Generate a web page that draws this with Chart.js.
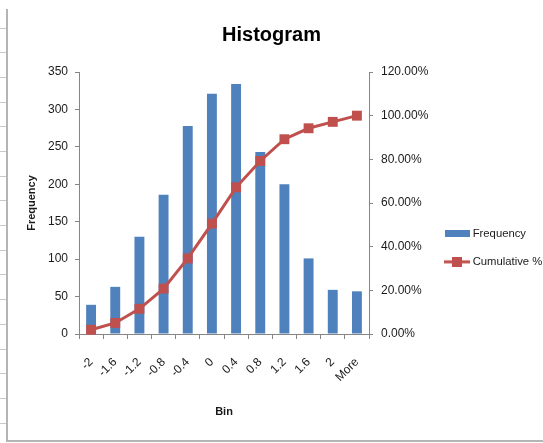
<!DOCTYPE html>
<html>
<head>
<meta charset="utf-8">
<script src="https://cdn.jsdelivr.net/npm/chart.js@4/dist/chart.umd.min.js"></script>
<style>
  html, body { margin: 0; padding: 0; background: #fff; }
  #wrap { width: 543px; height: 443px; }
</style>
</head>
<body>
<div id="wrap"><canvas id="c" width="543" height="443"></canvas></div>
<script>
// Histogram bins and counts, with the running cumulative share in percent
const bins = ['-2', '-1.6', '-1.2', '-0.8', '-0.4', '0', '0.4', '0.8', '1.2', '1.6', '2', 'More'];
const frequency = [39, 63, 130, 186, 278, 321, 334, 243, 200, 101, 59, 57];
const cumulativePct = [1.94, 5.07, 11.54, 20.79, 34.61, 50.57, 67.18, 79.26, 89.21, 94.23, 97.16, 100];

// Axis ranges
const freqAxis = [0, 350, 50];   // min, max, step
const pctAxis = [0, 120, 20];

const BAR = '#4F81BD';
const LINE = '#C0504D';
const AXIS = '#868686';
const TEXT = '#1a1a1a';
const FONT = "'Liberation Sans', Arial, sans-serif";

// Small legend swatches: a flat bar and a line with a square marker
function swatch(w, h, draw) {
  const c = document.createElement('canvas');
  c.width = w; c.height = h;
  draw(c.getContext('2d'), w, h);
  return c;
}
const barSwatch = swatch(25, 7, (g, w, h) => { g.fillStyle = BAR; g.fillRect(0, 0, w, h); });
const lineSwatch = swatch(26, 10, (g, w, h) => {
  g.strokeStyle = LINE; g.lineWidth = 3;
  g.beginPath(); g.moveTo(0, h / 2); g.lineTo(w, h / 2); g.stroke();
  g.fillStyle = LINE; g.fillRect(w / 2 - 5, h / 2 - 5, 10, 10);
});

// Worksheet frame behind the chart: left edge with row marks and a bottom rule
const sheetFrame = {
  id: 'sheetFrame',
  beforeDraw(chart) {
    const g = chart.ctx;
    g.save();
    g.fillStyle = '#fff';
    g.fillRect(0, 0, chart.width, chart.height);
    g.strokeStyle = '#c8c8c8';
    g.lineWidth = 1;
    for (let y = 27.5; y < 430; y += 24.7) {
      g.beginPath(); g.moveTo(0, Math.round(y) + 0.5); g.lineTo(6, Math.round(y) + 0.5); g.stroke();
    }
    g.strokeStyle = '#b4b4b4';
    g.lineWidth = 2;
    g.beginPath(); g.moveTo(7, 9); g.lineTo(7, 441); g.lineTo(chart.width, 441); g.stroke();
    g.restore();
  }
};

new Chart(document.getElementById('c'), {
  type: 'bar',
  data: {
    labels: bins,
    datasets: [
      {
        type: 'bar',
        label: 'Frequency',
        data: frequency,
        backgroundColor: BAR,
        borderWidth: 0,
        barPercentage: 0.41,
        categoryPercentage: 1.0,
        yAxisID: 'y',
        order: 2
      },
      {
        type: 'line',
        label: 'Cumulative %',
        data: cumulativePct,
        borderColor: LINE,
        backgroundColor: LINE,
        borderWidth: 3,
        tension: 0,
        pointStyle: 'rect',
        pointRadius: 7,
        pointBackgroundColor: LINE,
        pointBorderColor: LINE,
        pointBorderWidth: 0,
        yAxisID: 'y1',
        clip: false,
        order: 1
      }
    ]
  },
  options: {
    responsive: false,
    animation: false,
    devicePixelRatio: 1,
    layout: { padding: 0 },
    plugins: {
      tooltip: { enabled: false },
      title: {
        display: true,
        text: 'Histogram',
        color: '#000',
        font: { family: FONT, size: 20, weight: 'bold' },
        padding: { top: 23, bottom: 25 }
      },
      legend: {
        position: 'right',
        maxWidth: 113,
        title: { display: true, text: ' ', font: { size: 12 }, padding: { top: 20, bottom: 18 } },
        labels: {
          usePointStyle: true,
          pointStyleWidth: 20,
          padding: 17,
          color: TEXT,
          font: { family: FONT, size: 11.3 },
          generateLabels: chart => chart.data.datasets.map((ds, i) => ({
            text: ds.label,
            pointStyle: i === 0 ? barSwatch : lineSwatch,
            fillStyle: 'transparent',
            strokeStyle: 'transparent',
            lineWidth: 0,
            fontColor: TEXT,
            hidden: !chart.isDatasetVisible(i),
            datasetIndex: i
          }))
        }
      }
    },
    scales: {
      x: {
        offset: true,
        grid: { display: true, offset: true, drawOnChartArea: false, drawTicks: true, tickLength: 5, color: AXIS },
        border: { display: true, color: AXIS, width: 1 },
        ticks: { minRotation: 45, maxRotation: 45, autoSkip: false, padding: 16, color: TEXT, font: { family: FONT, size: 12 } },
        title: { display: true, text: 'Bin', color: TEXT, font: { family: FONT, size: 11, weight: 'bold' }, padding: { top: 0, bottom: 24 } },
        afterFit(s) { s.height = 109; }
      },
      y: {
        position: 'left',
        min: freqAxis[0], max: freqAxis[1],
        grid: { display: true, drawOnChartArea: false, drawTicks: true, tickLength: 4, color: AXIS },
        border: { display: true, color: AXIS, width: 1 },
        ticks: { stepSize: freqAxis[2], padding: 7, color: TEXT, font: { family: FONT, size: 12 } },
        title: { display: true, text: 'Frequency', color: TEXT, font: { family: FONT, size: 11, weight: 'bold' }, padding: { top: 25, bottom: 0 } },
        afterFit(s) { s.width = 79; }
      },
      y1: {
        position: 'right',
        min: pctAxis[0], max: pctAxis[1],
        grid: { display: true, drawOnChartArea: false, drawTicks: true, tickLength: 4, color: AXIS },
        border: { display: true, color: AXIS, width: 1 },
        ticks: { stepSize: pctAxis[2], padding: 8, color: TEXT, font: { family: FONT, size: 12 },
                 callback: v => v.toFixed(2) + '%' },
        afterFit(s) { s.width = s.chart.width - s.chart.legend.width - 369; }
      }
    }
  },
  plugins: [sheetFrame]
});
</script>
</body>
</html>
